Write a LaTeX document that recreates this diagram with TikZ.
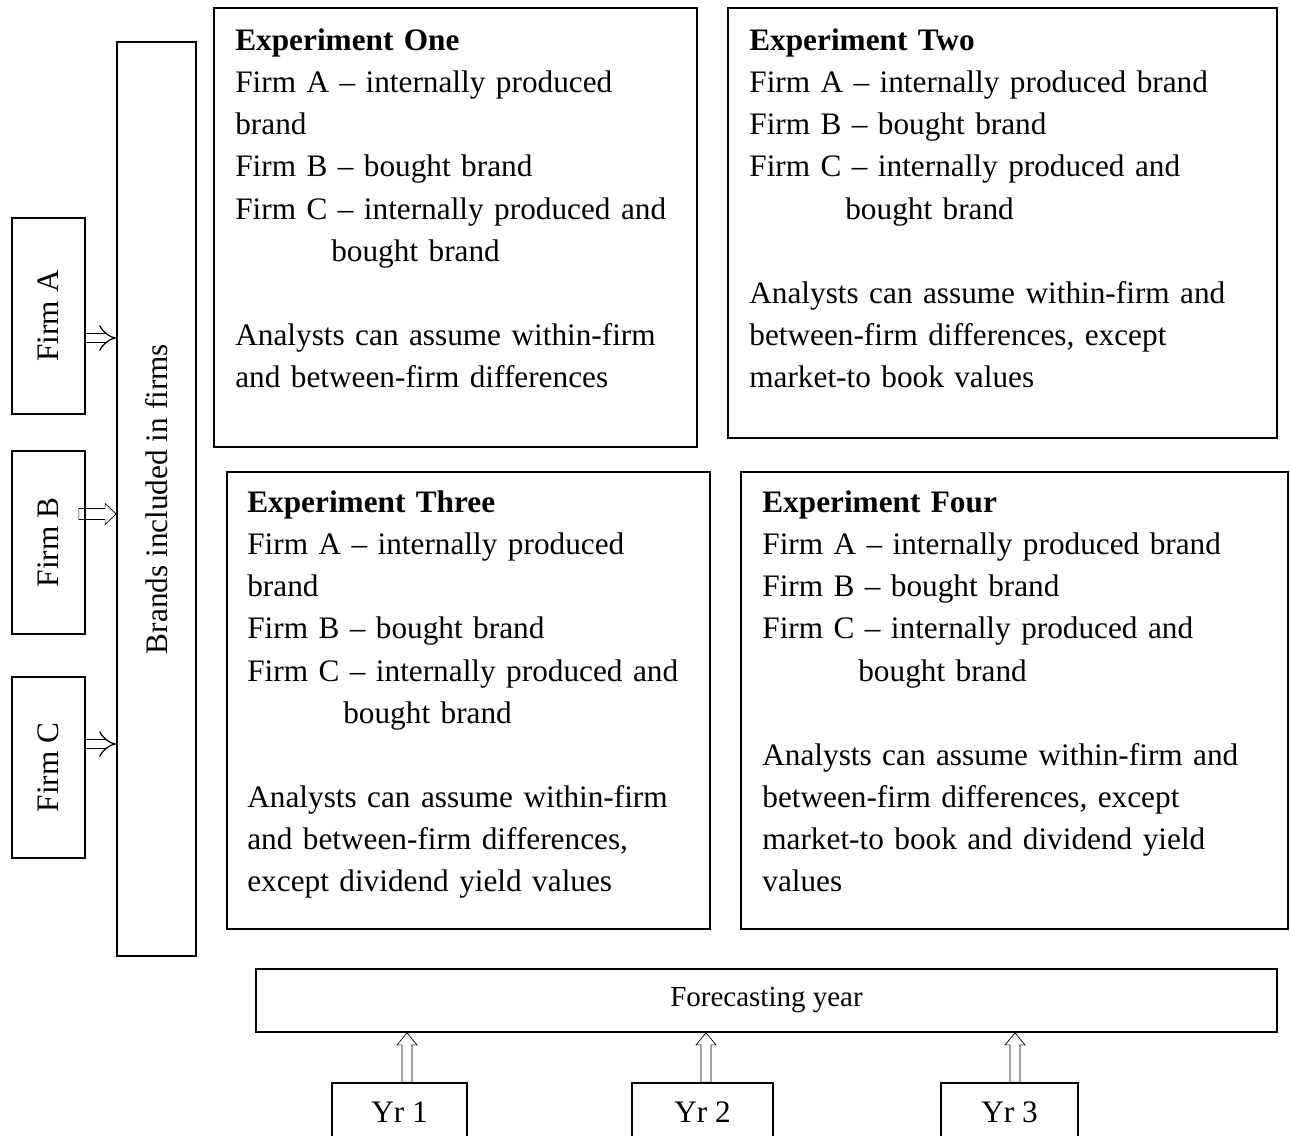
\documentclass[tikz,border=0pt]{standalone}
\usepackage{fontspec}
\setmainfont{Liberation Serif}
\usetikzlibrary{fit,calc,arrows.meta}

\begin{document}
\begin{tikzpicture}[x=0.02cm,y=0.02cm,
              box/.style={draw,line width=1pt,inner sep=0pt},
              body/.style={font=\fontsize{17.8pt}{24pt}\selectfont,align=left,anchor=north west,inner sep=0pt},
              firm/.style={font=\fontsize{17.8pt}{24pt}\selectfont,rotate=90,inner sep=0pt},
              yr/.style={font=\fontsize{17.8pt}{24pt}\selectfont,inner sep=0pt},
              thinarr/.style={double,double distance=0.16cm,line width=0.7pt,-{Implies}},
              blockright/.style={line width=0.9pt,to path={let \p1=(\tikztostart), \p2=(\tikztotarget) in
                (\x1,{\y1-0.11cm}) -- ({\x2-0.22cm},{\y1-0.11cm}) -- ({\x2-0.22cm},{\y1-0.21cm}) -- (\x2,\y1)
                -- ({\x2-0.22cm},{\y1+0.21cm}) -- ({\x2-0.22cm},{\y1+0.11cm}) -- (\x1,{\y1+0.11cm}) -- cycle}},
              blockup/.style={line width=0.9pt,to path={let \p1=(\tikztostart), \p2=(\tikztotarget) in
                ({\x1-0.1cm},\y1) -- ({\x1-0.1cm},{\y2-0.24cm}) -- ({\x1-0.2cm},{\y2-0.24cm}) -- (\x1,\y2)
                -- ({\x1+0.2cm},{\y2-0.24cm}) -- ({\x1+0.1cm},{\y2-0.24cm}) -- ({\x1+0.1cm},\y1) -- cycle}}]

  \useasboundingbox (0,0) rectangle (1290,-1135);

  \node[box,fit={(12,-218)(85,-414)}] (FA) {};
  \node[box,fit={(12,-451)(85,-634)}] (FB) {};
  \node[box,fit={(12,-677)(85,-858)}] (FC) {};
  \node[firm] (FAl) at (FA.center) {Firm A};
  \node[firm] (FBl) at (FB.center) {Firm B};
  \node[firm] (FCl) at (FC.center) {Firm C};

  \node[box,fit={(117,-42)(196,-956)}] (BR) {};
  \node[firm] (BRl) at (BR.center) {Brands included in firms};

  \node[box,fit={(214,-8)(697,-447)}] (E1) {};
  \node[box,fit={(728,-8)(1277,-438)}] (E2) {};
  \node[box,fit={(227,-472)(710,-929)}] (E3) {};
  \node[box,fit={(741,-472)(1288,-929)}] (E4) {};

  \node[body,text width=9.1cm] (E1t) at (235,-20.5) {\strut\textbf{Experiment One}\\
    Firm A – internally produced\\
    brand\\
    Firm B – bought brand\\
    Firm C – internally produced and\\
    \hspace*{1.92cm}bought brand\\[24pt]
    Analysts can assume within-firm\\
    and between-firm differences};

  \node[body,text width=10.4cm] (E2t) at (749,-20.5) {\strut\textbf{Experiment Two}\\
    Firm A – internally produced brand\\
    Firm B – bought brand\\
    Firm C – internally produced and\\
    \hspace*{1.92cm}bought brand\\[24pt]
    Analysts can assume within-firm and\\
    between-firm differences, except\\
    market-to book values};

  \node[body,text width=9.1cm] (E3t) at (247,-482.5) {\strut\textbf{Experiment Three}\\
    Firm A – internally produced\\
    brand\\
    Firm B – bought brand\\
    Firm C – internally produced and\\
    \hspace*{1.92cm}bought brand\\[24pt]
    Analysts can assume within-firm\\
    and between-firm differences,\\
    except dividend yield values};

  \node[body,text width=10.4cm] (E4t) at (762,-482.5) {\strut\textbf{Experiment Four}\\
    Firm A – internally produced brand\\
    Firm B – bought brand\\
    Firm C – internally produced and\\
    \hspace*{1.92cm}bought brand\\[24pt]
    Analysts can assume within-firm and\\
    between-firm differences, except\\
    market-to book and dividend yield\\
    values};

  \node[box,fit={(256,-969)(1277,-1032)}] (FY) {};
  \node[yr,font=\fontsize{16.5pt}{20pt}\selectfont] (FYl) at (FY.center) {Forecasting year};
  \node[box,fit={(332,-1083)(467,-1141)}] (Y1) {};
  \node[box,fit={(632,-1083)(773,-1141)}] (Y2) {};
  \node[box,fit={(941,-1083)(1078,-1141)}] (Y3) {};
  \node[yr] (Y1l) at (Y1.center) {Yr 1};
  \node[yr] (Y2l) at (Y2.center) {Yr 2};
  \node[yr] (Y3l) at (Y3.center) {Yr 3};

  \draw[thinarr] ([yshift=-0.44cm]FA.east) -- ([yshift=-0.44cm]FA.east -| BR.west);
  \draw ([xshift=-0.14cm,yshift=0.57cm]FB.east) to[blockright] ([yshift=0.57cm]FB.east -| BR.west);
  \draw[thinarr] ([yshift=0.47cm]FC.east) -- ([yshift=0.47cm]FC.east -| BR.west);

  \draw ([xshift=0.15cm]Y1.north) to[blockup] ([xshift=0.15cm]Y1.north |- FY.south);
  \draw ([xshift=0.07cm]Y2.north) to[blockup] ([xshift=0.07cm]Y2.north |- FY.south);
  \draw ([xshift=0.11cm]Y3.north) to[blockup] ([xshift=0.11cm]Y3.north |- FY.south);
\end{tikzpicture}
\end{document}
